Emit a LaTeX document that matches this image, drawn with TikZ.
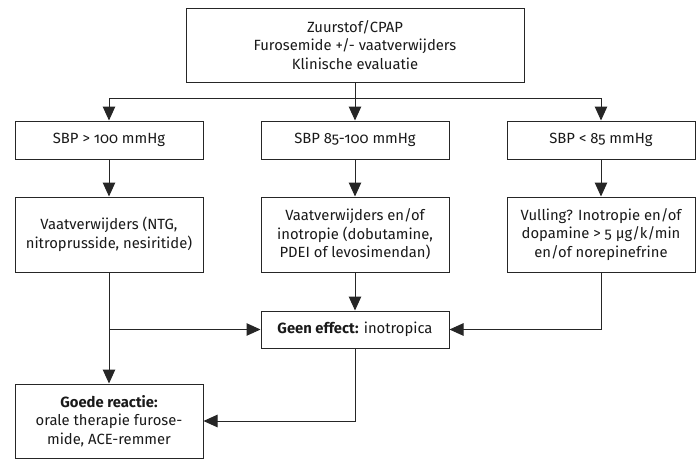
\documentclass[tikz,border=0pt]{standalone}
\usepackage{fontspec}
\setmainfont{Fira Sans}[RawFeature={+onum}]
\usetikzlibrary{arrows.meta}
\begin{document}
\begin{tikzpicture}[x=1pt,y=-1pt,
  box/.style={draw=black!85,line width=1pt,align=center,inner sep=2pt,
    minimum width=188pt,font=\fontsize{14.8}{18.5}\selectfont,text=black!90},
  arr/.style={draw=black!85,line width=1pt,-{Triangle[length=14pt,width=12.5pt]}},
  con/.style={draw=black!85,line width=1pt}]
\useasboundingbox (0,0) rectangle (698,461);
% top box
\node[box,minimum width=338pt,minimum height=74pt] (start) at (355,45)
  {Zuurstof/CPAP\\Furosemide +/- vaatverwijders\\Klinische evaluatie};
% blood pressure classes
\node[box,minimum height=38pt] (sbpa) at (109,140) {SBP > 100 mmHg};
\node[box,minimum height=38pt] (sbpb) at (355,140) {SBP 85-100 mmHg};
\node[box,minimum height=38pt] (sbpc) at (601,140) {SBP < 85 mmHg};
% treatments
\node[box,minimum height=75pt] (tra) at (109,234.5) {Vaatverwijders (NTG,\\nitroprusside, nesiritide)};
\node[box,minimum height=75pt] (trb) at (355,234.5) {Vaatverwijders en/of\\inotropie (dobutamine,\\PDEI of levosimendan)};
\node[box,minimum height=75pt] (trc) at (601,234.5) {Vulling? Inotropie en/of\\dopamine > 5 µg/k/min\\en/of norepinefrine};
% outcomes
\node[box,minimum height=37pt] (geen) at (355,329.5) {\textbf{Geen effect:} inotropica};
\node[box,minimum height=74pt] (goed) at (109,421) {\textbf{Goede reactie:}\\orale therapie furose-\\mide, ACE-remmer};
% connectors
\coordinate (split) at (355,98);
\draw[con] (start.south) -- (split);
\draw[arr] (split) -| (sbpa.north);
\draw[arr] (split) -- (sbpb.north);
\draw[arr] (split) -| (sbpc.north);
\draw[arr] (sbpa) -- (tra);
\draw[arr] (sbpb) -- (trb);
\draw[arr] (sbpc) -- (trc);
\draw[arr] (trb) -- (geen);
\draw[arr] (tra) -- (goed);
\draw[arr] (tra.south |- geen.west) -- (geen.west);
\draw[arr] (trc.south) |- (geen.east);
\draw[arr] (geen.south) |- (goed.east);
\end{tikzpicture}
\end{document}
